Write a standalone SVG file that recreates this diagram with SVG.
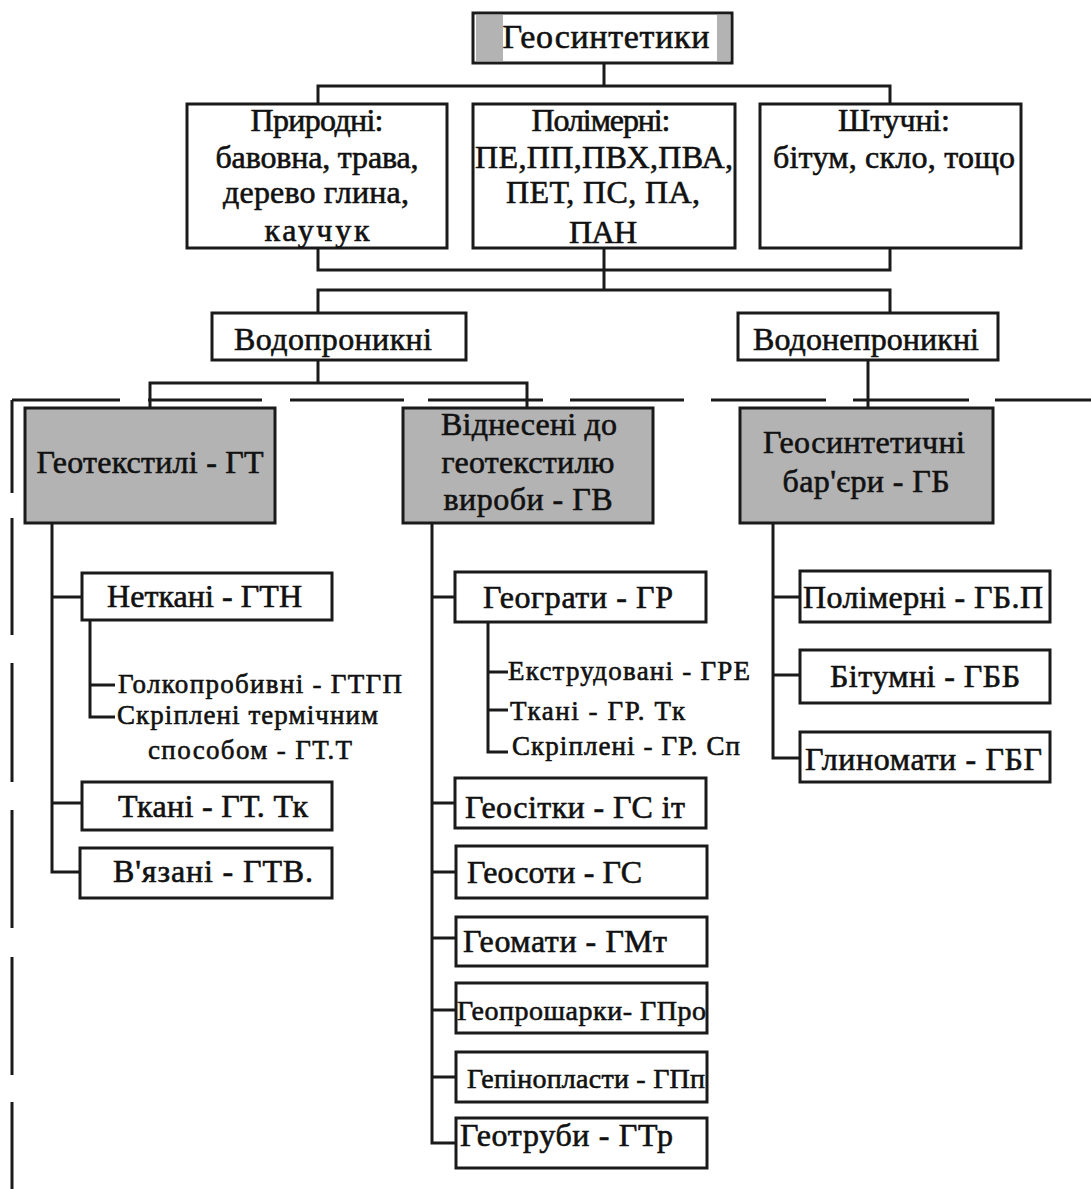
<svg xmlns="http://www.w3.org/2000/svg" width="1091" height="1189" viewBox="0 0 1091 1189">
<style>
.b{fill:#fff;stroke:#1a1a1a;stroke-width:3}
.g{fill:#b3b3b3;stroke:#1a1a1a;stroke-width:3}
.gb{fill:#b3b3b3;stroke:none}
.c{fill:none;stroke:#1a1a1a;stroke-width:3}
.dh{fill:none;stroke:#1a1a1a;stroke-width:3;stroke-dasharray:108 28 114 28 114 24 115 27 114 27 115 27 116 26}
.dv{fill:none;stroke:#1a1a1a;stroke-width:3;stroke-dasharray:93 25 117 28 119 28 118 29 118 27 200}
text{font-family:"Liberation Serif","Times New Roman",serif;font-size:32px;fill:#111;stroke:#111;stroke-width:0.6}
.m{text-anchor:middle}
.s{font-size:27px}
.t{font-size:28px}
</style>
<rect width="1091" height="1189" fill="#fff"/>
<g id="connectors">
<path class="c" d="M604 63V86M318 104V86H890V104"/>
<path class="c" d="M318 248V270H890V248M604 248V290M318 313V290H890V313"/>
<path class="c" d="M318 360V383M150 408V383H527V408"/>
<path class="c" d="M868 360V408"/>
<path class="c" d="M52 523V872H80M52 597H82M52 803H82"/>
<path class="c" d="M90 620V717H115M90 685H115"/>
<path class="c" d="M432 523V1143H456M432 597H455M432 803H455M432 872H456M432 938H456M432 1010H456M432 1077H456"/>
<path class="c" d="M488 622V752H508M488 672H508M488 710H508"/>
<path class="c" d="M773 523V758H800M773 597H800M773 675H800"/>
<path class="dh" d="M12 400H1091"/>
<path class="dv" d="M12 400V1189"/>
</g>
<g id="n-root">
<rect class="b" x="473" y="13" width="259" height="50"/>
<rect class="gb" x="476" y="15" width="27" height="46"/>
<rect class="gb" x="717" y="15" width="13" height="46"/>
<text class="m" x="606" y="48" style="font-size:34px" textLength="207">Геосинтетики</text>
</g>
<g id="n-natural">
<rect class="b" x="187" y="104" width="260" height="144"/>
<text class="m" x="317" y="131" textLength="133">Природні:</text>
<text class="m" x="317" y="168" textLength="203">бавовна, трава,</text>
<text class="m" x="316" y="203" textLength="186">дерево глина,</text>
<text class="m" x="317" y="241" textLength="105">каучук</text>
</g>
<g id="n-polymer">
<rect class="b" x="473" y="104" width="262" height="144"/>
<text class="m" x="601" y="131" textLength="139">Полімерні:</text>
<text class="m" x="604" y="168" textLength="258">ПЕ,ПП,ПВХ,ПВА,</text>
<text class="m" x="603" y="203" textLength="194">ПЕТ, ПС, ПА,</text>
<text class="m" x="603" y="243" textLength="68">ПАН</text>
</g>
<g id="n-artificial">
<rect class="b" x="760" y="104" width="261" height="144"/>
<text class="m" x="894" y="131" textLength="112">Штучні:</text>
<text class="m" x="894" y="168" textLength="242">бітум, скло, тощо</text>
</g>
<g id="n-permeable">
<rect class="b" x="212" y="313" width="254" height="47"/>
<text class="m" x="333" y="350" textLength="198">Водопроникні</text>
</g>
<g id="n-impermeable">
<rect class="b" x="738" y="313" width="260" height="47"/>
<text class="m" x="866" y="350" textLength="226">Водонепроникні</text>
</g>
<g id="n-gt">
<rect class="g" x="25" y="408" width="250" height="115"/>
<text class="m" x="150" y="473" textLength="227">Геотекстилі - ГТ</text>
</g>
<g id="n-gv">
<rect class="g" x="403" y="408" width="250" height="115"/>
<text class="m" x="529" y="435" textLength="176">Віднесені до</text>
<text class="m" x="528" y="473" textLength="173">геотекстилю</text>
<text class="m" x="528" y="510" textLength="169">вироби - ГВ</text>
</g>
<g id="n-gb">
<rect class="g" x="740" y="408" width="253" height="115"/>
<text class="m" x="864" y="453" textLength="202">Геосинтетичні</text>
<text class="m" x="866" y="492" textLength="167">бар'єри - ГБ</text>
</g>
<g id="n-gtn">
<rect class="b" x="82" y="573" width="250" height="47"/>
<text x="107" y="607" textLength="195">Неткані - ГТН</text>
</g>
<g id="n-gtgp"><text class="s" x="118" y="693" textLength="284">Голкопробивні - ГТГП</text></g>
<g id="n-gtt">
<text class="s" x="117" y="724" textLength="261">Скріплені термічним</text>
<text class="s" x="148" y="759" textLength="204">способом - ГТ.Т</text>
</g>
<g id="n-gttk">
<rect class="b" x="82" y="782" width="250" height="48"/>
<text x="118" y="817" textLength="190">Ткані - ГТ. Тк</text>
</g>
<g id="n-gtv">
<rect class="b" x="80" y="848" width="252" height="50"/>
<text x="113" y="882" textLength="200">В'язані - ГТВ.</text>
</g>
<g id="n-gr">
<rect class="b" x="455" y="572" width="251" height="50"/>
<text x="483" y="608" textLength="190">Геограти - ГР</text>
</g>
<g id="n-gre"><text class="s" x="508" y="680" textLength="242">Екструдовані - ГРЕ</text></g>
<g id="n-grtk"><text class="s" x="510" y="720" textLength="175">Ткані - ГР. Тк</text></g>
<g id="n-grsp"><text class="s" x="512" y="755" textLength="228">Скріплені - ГР. Сп</text></g>
<g id="n-gsit">
<rect class="b" x="455" y="778" width="251" height="50"/>
<text x="465" y="818" textLength="220">Геосітки - ГС іт</text>
</g>
<g id="n-gs">
<rect class="b" x="456" y="846" width="251" height="52"/>
<text x="467" y="883" textLength="175">Геосоти - ГС</text>
</g>
<g id="n-gmt">
<rect class="b" x="456" y="917" width="251" height="49"/>
<text x="463" y="952" textLength="204">Геомати - ГМт</text>
</g>
<g id="n-gpro">
<rect class="b" x="456" y="983" width="251" height="50"/>
<text class="t" x="457" y="1020" textLength="249">Геопрошарки- ГПро</text>
</g>
<g id="n-gpp">
<rect class="b" x="456" y="1052" width="251" height="50"/>
<text class="t" x="467" y="1088" textLength="238">Гепінопласти - ГПп</text>
</g>
<g id="n-gtr">
<rect class="b" x="456" y="1118" width="251" height="50"/>
<text x="460" y="1146" textLength="213">Геотруби - ГТр</text>
</g>
<g id="n-gbp">
<rect class="b" x="800" y="571" width="250" height="51"/>
<text x="803" y="608" textLength="240">Полімерні - ГБ.П</text>
</g>
<g id="n-gbb">
<rect class="b" x="800" y="650" width="250" height="53"/>
<text x="830" y="687" textLength="190">Бітумні - ГББ</text>
</g>
<g id="n-gbg">
<rect class="b" x="800" y="732" width="250" height="50"/>
<text x="805" y="770" textLength="237">Глиномати - ГБГ</text>
</g>
</svg>
